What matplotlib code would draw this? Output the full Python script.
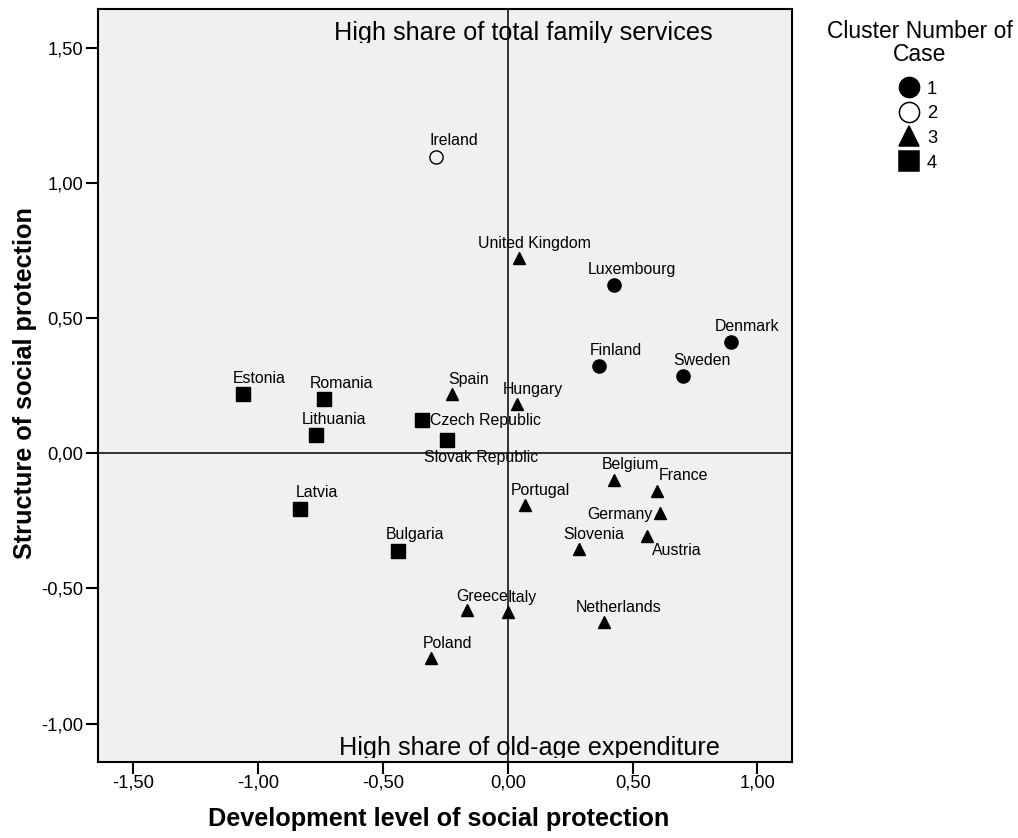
import matplotlib
matplotlib.use("Agg")
import matplotlib.pyplot as plt
from matplotlib.lines import Line2D
from matplotlib.ticker import FuncFormatter
from matplotlib.transforms import Bbox, TransformedBbox

plt.rcParams['font.family'] = ['Liberation Sans', 'DejaVu Sans']
plt.rcParams['axes.unicode_minus'] = False

countries = ['Denmark', 'Sweden', 'Finland', 'Luxembourg', 'Ireland',
             'United Kingdom', 'Spain', 'Hungary', 'Belgium', 'France',
             'Germany', 'Austria', 'Portugal', 'Slovenia', 'Greece', 'Italy',
             'Netherlands', 'Poland', 'Estonia', 'Romania', 'Lithuania',
             'Czech Republic', 'Slovak Republic', 'Latvia', 'Bulgaria']
dev_level = [0.893, 0.702, 0.364, 0.427, -0.288,
             0.046, -0.222, 0.038, 0.427, 0.597,
             0.611, 0.557, 0.067, 0.285, -0.162, 0.000,
             0.384, -0.307, -1.061, -0.736, -0.767,
             -0.343, -0.243, -0.831, -0.441]
structure = [0.412, 0.287, 0.324, 0.622, 1.097,
             0.721, 0.218, 0.182, -0.099, -0.139,
             -0.223, -0.307, -0.192, -0.354, -0.580, -0.586,
             -0.625, -0.756, 0.219, 0.201, 0.068,
             0.124, 0.047, -0.205, -0.362]
cluster = [1, 1, 1, 1, 2,
           3, 3, 3, 3, 3,
           3, 3, 3, 3, 3, 3,
           3, 3, 4, 4, 4,
           4, 4, 4, 4]

cluster_ids = [1, 2, 3, 4]
xticks = [-1.5, -1.0, -0.5, 0.0, 0.5, 1.0]
yticks = [-1.0, -0.5, 0.0, 0.5, 1.0, 1.5]

# marker look per cluster
styles = {1: dict(marker='o', mfc='black', ms=9.5),
          2: dict(marker='o', mfc='none', ms=9.5),
          3: dict(marker='^', mfc='black', ms=9.0),
          4: dict(marker='s', mfc='black', ms=9.5)}

# where each name sits relative to its marker (points) and alignment
label_pos = {
    'Denmark': (-11.3, 8.1, 'left'), 'Sweden': (-7.4, 7.7, 'left'),
    'Finland': (-6.3, 7.7, 'left'), 'Luxembourg': (-19.4, 7.9, 'left'),
    'Ireland': (-4.8, 8.4, 'left'), 'United Kingdom': (-30.0, 7.2, 'left'),
    'Spain': (-2.9, 7.2, 'left'), 'Hungary': (-10.8, 7.2, 'left'),
    'Belgium': (-9.1, 7.7, 'left'), 'France': (1.7, 7.4, 'left'),
    'Germany': (-5.8, -3.8, 'right'), 'Austria': (4.0, -13.5, 'left'),
    'Portugal': (-9.8, 6.9, 'left'), 'Slovenia': (-11.1, 7.0, 'left'),
    'Greece': (-7.9, 6.7, 'left'), 'Italy': (-0.5, 7.2, 'left'),
    'Netherlands': (-19.9, 7.2, 'left'), 'Poland': (-6.0, 6.7, 'left'),
    'Estonia': (-7.2, 7.7, 'left'), 'Romania': (-10.6, 7.7, 'left'),
    'Lithuania': (-10.5, 7.7, 'left'), 'Czech Republic': (5.3, -3.8, 'left'),
    'Slovak Republic': (-16.6, -15.6, 'left'), 'Latvia': (-3.6, 8.6, 'left'),
    'Bulgaria': (-8.4, 8.6, 'left'),
}

fig = plt.figure(figsize=(10.18, 8.38), dpi=100)
ax = fig.add_axes([0.0966, 0.0911, 0.6811, 0.8976])
ax.set_facecolor('#f0f0f0')
ax.set_xlim(-1.640, 1.137)
ax.set_ylim(-1.141, 1.641)

ax.axhline(0, color='black', lw=1.1, zorder=2)
ax.axvline(0, color='black', lw=1.1, zorder=2)

for c in cluster_ids:
    xs = [x for x, k in zip(dev_level, cluster) if k == c]
    ys = [y for y, k in zip(structure, cluster) if k == c]
    ax.plot(xs, ys, ls='none', mec='black', mew=1.0, zorder=3, **styles[c])

for name, x, y in zip(countries, dev_level, structure):
    dx, dy, ha = label_pos[name]
    ax.annotate(name, (x, y), xytext=(dx, dy), textcoords='offset points',
                ha=ha, va='baseline', fontsize=11.4, zorder=4)

# quadrant notes, descenders cut like in the original
top_note = ax.text(-0.698, 1.528, 'High share of total family services',
                   fontsize=18.2, ha='left', va='baseline', zorder=1)
top_note.set_clip_box(TransformedBbox(Bbox([[-1.64, 1.517], [1.137, 1.641]]), ax.transData))
top_note.set_clip_on(True)
bot_note = ax.text(-0.675, -1.116, 'High share of old-age expenditure',
                   fontsize=18.2, ha='left', va='baseline', zorder=1)
bot_note.set_clip_box(TransformedBbox(Bbox([[-1.64, -1.127], [1.137, 0.0]]), ax.transData))
bot_note.set_clip_on(True)

comma = FuncFormatter(lambda v, p: f"{v:.2f}".replace('.', ','))
ax.set_xticks(xticks)
ax.set_yticks(yticks)
ax.xaxis.set_major_formatter(comma)
ax.yaxis.set_major_formatter(comma)
ax.tick_params(axis='both', direction='out', length=8.5, width=1.5,
               labelsize=13.2, color='black')
ax.tick_params(axis='x', pad=0.5)
ax.tick_params(axis='y', pad=2.4)
for sp in ax.spines.values():
    sp.set_linewidth(1.5)

ax.set_xlabel('Development level of social protection', fontsize=18.2,
              fontweight='bold', va='baseline')
ax.xaxis.set_label_coords(0.491, -0.0855)
ax.set_ylabel('Structure of social protection', fontsize=18.2,
              fontweight='bold', va='center', ha='center')
ax.yaxis.set_label_coords(-0.1064, 0.504)

handles = [Line2D([], [], ls='none', mec='black', mew=1.1,
                  marker=styles[c]['marker'], mfc=styles[c]['mfc'],
                  ms=14.5 if c != 3 else 14.0) for c in cluster_ids]
fig.legend(handles, [str(c) for c in cluster_ids], loc='upper center',
           bbox_to_anchor=(0.9025, 1 - 80.5 / 838), frameon=False,
           fontsize=13.2, handlelength=1.0, handletextpad=0.46,
           labelspacing=0.42, borderpad=0, borderaxespad=0)
fig.text(920 / 1018, 1 - 20 / 838, 'Cluster Number of\nCase', fontsize=16.5,
         ha='center', va='top', multialignment='center', linespacing=1.0)

fig.savefig('out.png', dpi=100)
